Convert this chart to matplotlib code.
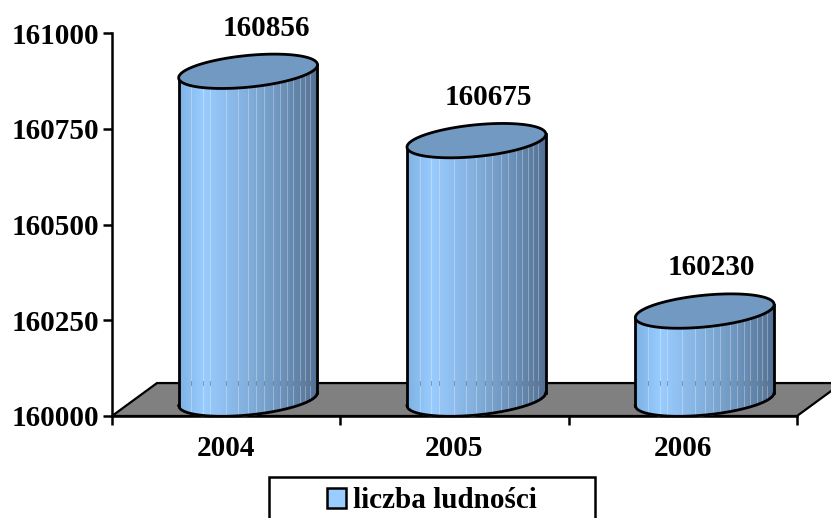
import numpy as np
import matplotlib
matplotlib.use("Agg")
import matplotlib.pyplot as plt
from matplotlib.patches import Polygon, Rectangle

plt.rcParams['font.family'] = ['Liberation Serif', 'DejaVu Serif']

years = ['2004', '2005', '2006']
population = [160856, 160675, 160230]
y_ticks = [160000, 160250, 160500, 160750, 161000]
legend_label = 'liczba ludności'

W, H = 831, 518
BASE = 160000
TOP = 161000
FS = 21

# depth of the fake 3d floor and the cylinder shape, in data units
floor_dx, floor_dy = 0.197, 86
mid_dx, mid_dy = 0.096, 44
a, b, k = 0.304, 41.5, 17

label_shift = [0.08, 0.052, 0.03]
seams = [0.09, 0.175, 0.227, 0.338, 0.428, 0.5, 0.56, 0.613, 0.68, 0.73,
         0.783, 0.826, 0.874, 0.91, 0.947]

stops = [0, 0.18, 0.5, 0.75, 1]
reds = [128, 153, 130, 108, 84]
greens = [178, 204, 175, 146, 113]
blues = [228, 255, 220, 186, 148]
top_color = '#7199C1'


def lower_arc(cx, cy, n=140):
    # even steps along x, so the colour bands keep the same width
    t = 2 * np.pi - np.arccos(np.linspace(-1, 1, n))
    return cx + a * np.cos(t), cy + b * np.sin(t) + k * np.cos(t)


def cylinder(ax, cx, value):
    y0 = BASE + mid_dy
    y1 = value + mid_dy
    xs, low = lower_arc(cx, y0)
    xs, high = lower_arc(cx, y1)
    for i in range(len(xs) - 1):
        f = (0.5 * (xs[i] + xs[i + 1]) - (cx - a)) / (2 * a)
        col = [np.interp(f, stops, reds) / 255, np.interp(f, stops, greens) / 255,
               np.interp(f, stops, blues) / 255]
        ax.fill_between(xs[i:i + 2], low[i:i + 2], high[i:i + 2], color=col,
                        lw=0.7, zorder=3, clip_on=False)
    for f in seams:
        sx = cx - a + 2 * a * f
        ax.plot([sx, sx], [np.interp(sx, xs, low), np.interp(sx, xs, high)],
                color='white', alpha=0.3, lw=0.7, zorder=3.1, clip_on=False)
        ax.plot([sx, sx], [BASE + floor_dy - 6, BASE + floor_dy + 6],
                color='#555555', alpha=0.5, lw=0.7, zorder=3.2, clip_on=False)

    # closed top, sheared ellipse
    t = np.linspace(0, 2 * np.pi, 200)
    top = np.column_stack([cx + a * np.cos(t), y1 + b * np.sin(t) + k * np.cos(t)])
    ax.add_patch(Polygon(top, closed=True, facecolor=top_color, edgecolor='black',
                         lw=2, zorder=5, clip_on=False))
    ax.plot(xs, low, color='black', lw=2, zorder=4, clip_on=False)
    ax.plot([xs[0], xs[0]], [low[0], high[0]], color='black', lw=2, zorder=4, clip_on=False)
    ax.plot([xs[-1], xs[-1]], [low[-1], high[-1]], color='black', lw=2, zorder=4, clip_on=False)


fig = plt.figure(figsize=(W / 100, H / 100), dpi=100)
ax = fig.add_axes([112 / W, 1 - 416 / H, (797 - 112) / W, (416 - 33) / H])
ax.set_xlim(0, 3)
ax.set_ylim(BASE, TOP)

# floor
floor = [(0, BASE), (3, BASE), (3 + floor_dx, BASE + floor_dy), (floor_dx, BASE + floor_dy)]
ax.add_patch(Polygon(floor, closed=True, facecolor='#808080', edgecolor='black',
                     lw=1.6, zorder=1, clip_on=False))

for i, value in enumerate(population):
    cylinder(ax, i + 0.5 + mid_dx, value)
    ax.text(i + 0.5 + mid_dx + label_shift[i], value + 157, str(value), ha='center',
            va='center', fontsize=FS, fontweight='bold', clip_on=False)

for s in ['top', 'right']:
    ax.spines[s].set_visible(False)
for s in ['left', 'bottom']:
    ax.spines[s].set_linewidth(1.8)
    ax.spines[s].set_zorder(2)

ax.set_yticks(y_ticks)
ax.set_yticklabels([str(v) for v in y_ticks], fontsize=FS, fontweight='bold')
ax.set_xticks([0, 1, 2, 3])
ax.set_xticklabels([])
ax.set_xticks([0.5, 1.5, 2.5], labels=years, minor=True, fontsize=FS, fontweight='bold')
ax.tick_params(axis='x', which='minor', length=0, pad=14)
ax.tick_params(axis='x', which='major', length=6.5, width=1.8)
ax.tick_params(axis='y', length=6.5, width=1.8, pad=3)

# legend box runs off the bottom of the picture in the original
fig.add_artist(Rectangle((269 / W, -0.02), (595 - 269) / W, 1 - 477 / H + 0.02,
                         facecolor='white', edgecolor='black', lw=1.8,
                         transform=fig.transFigure))
fig.add_artist(Rectangle((327 / W, 1 - 508 / H), 19 / W, 20 / H, facecolor='#99CCFF',
                         edgecolor='black', lw=1.8, transform=fig.transFigure))
fig.text(353 / W, 1 - 500 / H, legend_label, ha='left', va='center', fontsize=FS,
         fontweight='bold')

fig.savefig('out.png', dpi=100)
